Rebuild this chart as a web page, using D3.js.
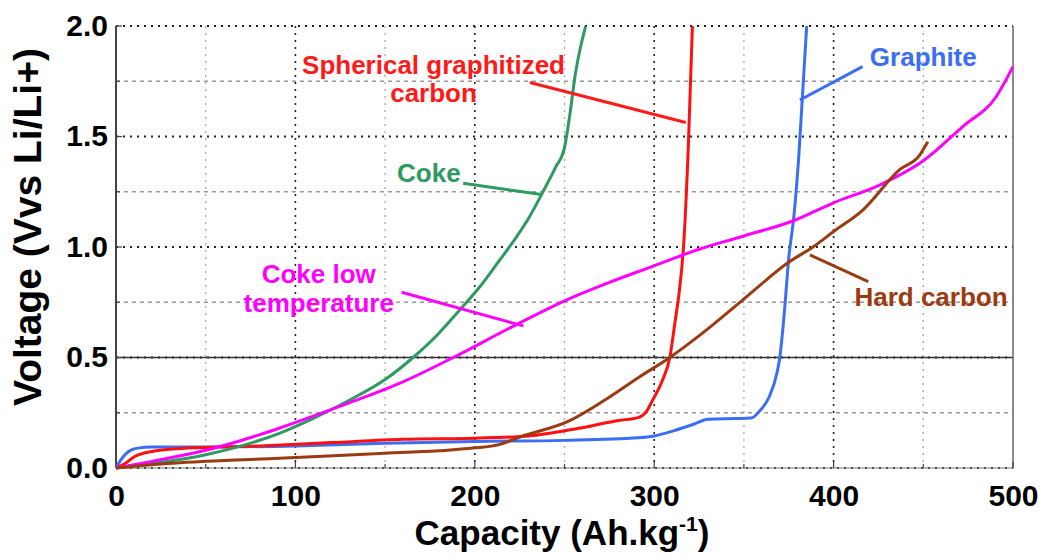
<!DOCTYPE html>
<html>
<head>
<meta charset="utf-8">
<script src="https://cdn.jsdelivr.net/npm/d3@7"></script>
<style>
  body { margin: 0; background: #fff; }
  svg text { font-family: "Liberation Sans", Arial, sans-serif; font-weight: bold; }
</style>
</head>
<body>
<svg id="chart" width="1045" height="559"></svg>
<script>
// capacity (Ah/kg), voltage (V vs Li/Li+)
const graphite = [[0,0],[3,0.04],[7,0.075],[12,0.09],[20,0.095],[50,0.095],[100,0.1],[150,0.112],[200,0.12],[250,0.125],[291,0.137],[300,0.145],[310.6,0.168],[322,0.198],[330,0.221],[345,0.224],[354,0.226],[359,0.26],[364,0.32],[368.7,0.44],[370,0.5],[372.5,0.7],[375,0.95],[378,1.15],[380.5,1.4],[382.5,1.665],[385,2.0]];
const spherical = [[0,0],[5,0.02],[10,0.05],[20,0.075],[40,0.09],[80,0.1],[120,0.115],[160,0.13],[200,0.135],[230,0.145],[258,0.18],[280,0.215],[291,0.228],[296,0.26],[299,0.305],[304.8,0.4],[308.7,0.5],[311.6,0.66],[314,0.8],[316.5,1.02],[319,1.45],[321.3,2.0]];
const coke = [[0,0],[20,0.02],[50,0.06],[91,0.157],[110,0.225],[128.5,0.3],[150,0.4],[165.6,0.5],[180,0.61],[191.6,0.715],[202.8,0.82],[212,0.92],[221,1.02],[230,1.13],[238,1.25],[245,1.36],[250,1.45],[253,1.6],[256,1.78],[261.8,2.0]];
const cokeLowT = [[0,0],[20,0.03],[50,0.08],[91,0.18],[110,0.235],[130,0.295],[160,0.39],[188,0.5],[221,0.64],[251,0.76],[275,0.84],[300,0.915],[325,0.99],[350,1.05],[378,1.12],[400,1.2],[425.6,1.28],[450,1.39],[472,1.545],[490.6,1.68],[500,1.816]];
const hardCarbon = [[0,0],[20,0.015],[50,0.03],[91,0.044],[147,0.066],[180,0.078],[199,0.09],[213.9,0.107],[225,0.14],[252.6,0.213],[272,0.305],[291.3,0.41],[308.7,0.5],[325.3,0.6],[349.3,0.76],[375.5,0.934],[388.5,1.0],[400,1.07],[416.3,1.167],[436.8,1.35],[448,1.416],[452.5,1.476]];

const xMajor = [0, 100, 200, 300, 400, 500];
const xMinor = [50, 150, 250, 350, 450];
const yMajor = [0, 0.5, 1.0, 1.5, 2.0];
const yMinor = [0.25, 0.75, 1.25, 1.75];

const series = [
  { name: "Graphite", data: graphite, color: "#3b6ef4" },
  { name: "Spherical graphitized carbon", data: spherical, color: "#ff1010" },
  { name: "Coke", data: coke, color: "#2e9a62" },
  { name: "Coke low temperature", data: cokeLowT, color: "#ff00ff" },
  { name: "Hard carbon", data: hardCarbon, color: "#9a3b12" }
];

// label text lines, anchor (data coords), leader line (data coords)
const notes = [
  { lines: ["Spherical graphitized", "carbon"], at: [177, 1.783], gap: 0.127, color: "#ff1a1a", lead: [[230.7,1.744],[317.6,1.563]] },
  { lines: ["Coke"], at: [174.4, 1.292], gap: 0, color: "#2e9a62", lead: [[193.5,1.288],[237.2,1.238]] },
  { lines: ["Coke low", "temperature"], at: [113, 0.835], gap: 0.127, color: "#ff00ff", lead: [[159.2,0.795],[227,0.643]] },
  { lines: ["Graphite"], at: [450, 1.819], gap: 0, color: "#3b6ef4", lead: [[416.1,1.816],[381.2,1.665]] },
  { lines: ["Hard carbon"], at: [454.3, 0.733], gap: 0, color: "#9a3b12", lead: [[386.8,0.964],[419.3,0.843]] }
];

const svg = d3.select("#chart");
const m = { left: 116, right: 1013, top: 26, bottom: 468 };

const x = d3.scaleLinear().domain([0, 500]).range([m.left, m.right]);
const y = d3.scaleLinear().domain([0, 2]).range([m.bottom, m.top]);

// grid
const grid = svg.append("g");
grid.selectAll(".vmin").data(xMinor).enter().append("line")
  .attr("x1", d => x(d)).attr("x2", d => x(d)).attr("y1", m.top).attr("y2", m.bottom)
  .attr("stroke", "#aaa").attr("stroke-width", 1.3).attr("stroke-dasharray", "2,5");
grid.selectAll(".vmaj").data(xMajor.slice(1, -1)).enter().append("line")
  .attr("x1", d => x(d)).attr("x2", d => x(d)).attr("y1", m.top).attr("y2", m.bottom)
  .attr("stroke", "#222").attr("stroke-width", 1.6).attr("stroke-dasharray", "2,5");
grid.selectAll(".hmin").data(yMinor).enter().append("line")
  .attr("x1", m.left).attr("x2", m.right).attr("y1", d => y(d)).attr("y2", d => y(d))
  .attr("stroke", "#999").attr("stroke-width", 1.3).attr("stroke-dasharray", "4,4");
grid.selectAll(".hmaj").data(yMajor).enter().append("line")
  .attr("x1", m.left).attr("x2", m.right).attr("y1", d => y(d)).attr("y2", d => y(d))
  .attr("stroke", "#222").attr("stroke-width", 1.8).attr("stroke-dasharray", "2,5");
// solid line at 0.5 V
grid.append("line")
  .attr("x1", m.left).attr("x2", m.right).attr("y1", y(0.5)).attr("y2", y(0.5))
  .attr("stroke", "#333").attr("stroke-width", 1.4);

// frame
svg.append("line").attr("x1", m.left).attr("x2", m.left).attr("y1", m.top).attr("y2", m.bottom)
  .attr("stroke", "#444").attr("stroke-width", 2);
svg.append("line").attr("x1", m.right).attr("x2", m.right).attr("y1", m.top).attr("y2", m.bottom)
  .attr("stroke", "#666").attr("stroke-width", 1.5);
svg.append("line").attr("x1", m.left).attr("x2", m.right).attr("y1", m.bottom).attr("y2", m.bottom)
  .attr("stroke", "#777").attr("stroke-width", 1.2);

// small inward ticks on the bottom and left axes
svg.append("g").selectAll("line").data(xMajor.concat(xMinor)).enter().append("line")
  .attr("x1", d => x(d)).attr("x2", d => x(d))
  .attr("y1", m.bottom).attr("y2", d => m.bottom - (d % 100 === 0 ? 6 : 4))
  .attr("stroke", "#444").attr("stroke-width", 1.2);
svg.append("g").selectAll("line").data(yMajor.concat(yMinor)).enter().append("line")
  .attr("y1", d => y(d)).attr("y2", d => y(d))
  .attr("x1", m.left).attr("x2", d => m.left + (d % 0.5 === 0 ? 6 : 4))
  .attr("stroke", "#444").attr("stroke-width", 1.2);

// curves
const line = d3.line().x(d => x(d[0])).y(d => y(d[1])).curve(d3.curveMonotoneX);
svg.append("g").selectAll("path").data(series).enter().append("path")
  .attr("d", d => line(d.data))
  .attr("fill", "none")
  .attr("stroke", d => d.color)
  .attr("stroke-width", 3)
  .attr("stroke-linejoin", "round");

// axes
const xAxis = svg.append("g")
  .attr("transform", "translate(0," + m.bottom + ")")
  .call(d3.axisBottom(x).tickValues(xMajor).tickFormat(d3.format("d")).tickSize(0).tickPadding(17));
xAxis.select(".domain").remove();
xAxis.selectAll("text").style("font-size", "30px").attr("fill", "#000");

const yAxis = svg.append("g")
  .attr("transform", "translate(" + m.left + ",0)")
  .call(d3.axisLeft(y).tickValues(yMajor).tickFormat(d3.format(".1f")).tickSize(0).tickPadding(8));
yAxis.select(".domain").remove();
yAxis.selectAll("text").style("font-size", "30px").attr("fill", "#000").attr("dy", "0.3em");

// axis titles
const xt = svg.append("text")
  .attr("x", 562).attr("y", 545)
  .attr("text-anchor", "middle")
  .style("font-size", "35px");
xt.append("tspan").text("Capacity (Ah.kg");
xt.append("tspan").text("-1").attr("dy", -14).style("font-size", "21px");
xt.append("tspan").text(")").attr("dy", 14);

svg.append("text")
  .attr("transform", "translate(41,227) rotate(-90)")
  .attr("text-anchor", "middle")
  .style("font-size", "39px")
  .text("Voltage (Vvs Li/Li+)");

// annotations
const ann = svg.append("g");
notes.forEach(n => {
  ann.append("line")
    .attr("x1", x(n.lead[0][0])).attr("y1", y(n.lead[0][1]))
    .attr("x2", x(n.lead[1][0])).attr("y2", y(n.lead[1][1]))
    .attr("stroke", n.color).attr("stroke-width", 3);
  n.lines.forEach((t, i) => {
    ann.append("text")
      .attr("x", x(n.at[0])).attr("y", y(n.at[1] - i * n.gap))
      .attr("text-anchor", "middle")
      .attr("fill", n.color)
      .style("font-size", "26px")
      .text(t);
  });
});
</script>
</body>
</html>
